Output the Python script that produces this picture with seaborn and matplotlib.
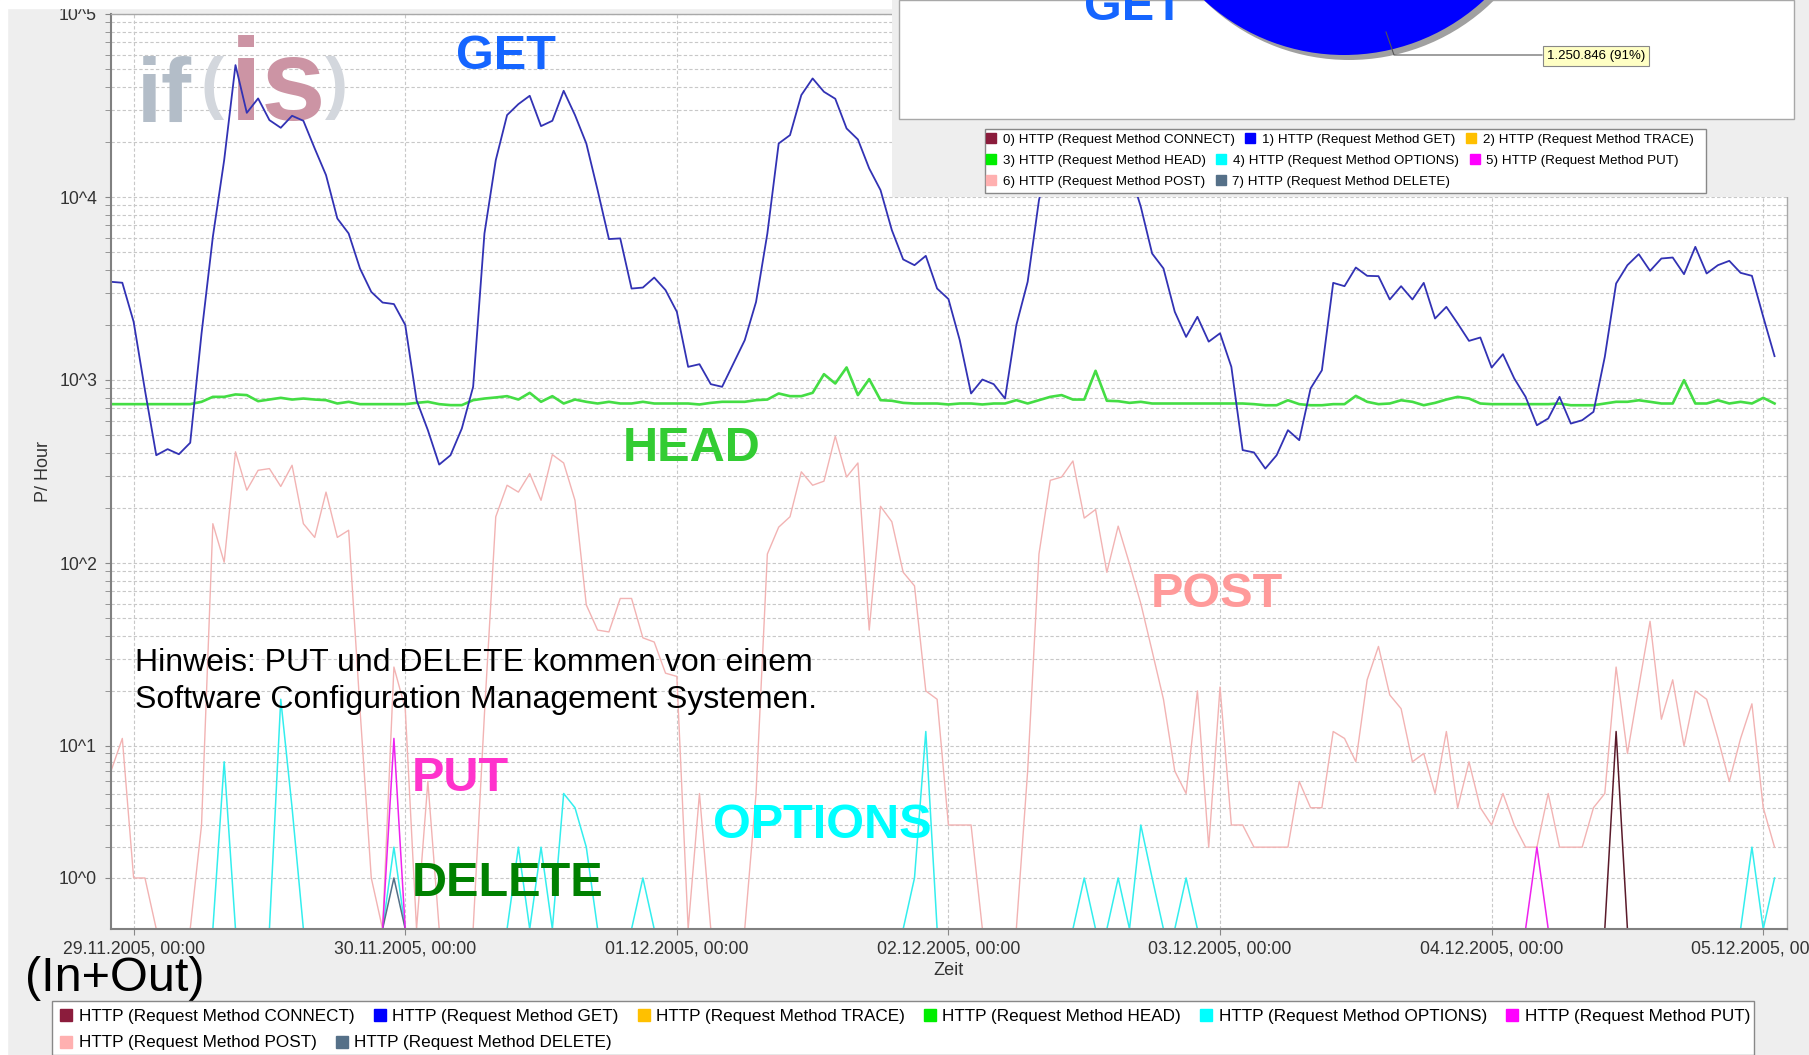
import numpy as np
import pandas as pd
import matplotlib
matplotlib.use("Agg")
import matplotlib.pyplot as plt
import matplotlib.dates as mdates
from matplotlib import font_manager
from matplotlib.lines import Line2D
from matplotlib.patches import Rectangle
from matplotlib.ticker import FixedLocator, FixedFormatter, NullFormatter
import seaborn as sns

# hourly requests, first value = 28.11.2005 22:00 (hour -2 relative to 29.11. 00:00)
start_time = "2005-11-28 22:00"
first_hour = -2

get_vals = [
    3440, 3400, 2080, 880, 388, 419, 393, 454, 1795, 6060,
    15900, 52570, 28840, 34560, 26310, 23890, 27790, 26090, 18420, 13170,
    7630, 6320, 4070, 3030, 2650, 2600, 2000, 776, 532, 345,
    388, 543, 918, 6320, 15900, 28030, 32180, 35740, 24400, 26090,
    38060, 28030, 19610, 10900, 5890, 5940, 3160, 3200, 3630, 3100,
    2360, 1180, 1220, 949, 918, 1230, 1650, 2670, 6320, 19610,
    21780, 36050, 44450, 37580, 34420, 23690, 20630, 14320, 10900, 6590,
    4560, 4240, 4770, 3160, 2770, 1650, 844, 1006, 949, 792,
    1995, 3440, 9620, 17000, 26000, 31000, 36000, 33000, 30000, 24000,
    14000, 8840, 4910, 4070, 2360, 1720, 2215, 1620, 1800, 1180,
    414, 402, 328, 388, 532, 469, 899, 1130, 3395, 3256,
    4118, 3709, 3693, 2754, 3256, 2754, 3395, 2168, 2510, 2036,
    1636, 1707, 1170, 1384, 1019, 809, 566, 616, 809, 578,
    603, 670, 1338, 3368, 4242, 4871, 3949, 4612, 4670, 3787,
    5342, 3819, 4242, 4479, 3851, 3709, 2214, 1350,
]

head_vals = [
    738, 738, 738, 738, 738, 738, 738, 738, 760, 809,
    809, 834, 827, 766, 782, 799, 782, 792, 782, 776,
    744, 760, 738, 738, 738, 738, 738, 750, 760, 738,
    729, 729, 776, 792, 803, 816, 782, 851, 760, 816,
    744, 782, 760, 744, 760, 744, 744, 760, 744, 744,
    744, 744, 735, 750, 760, 760, 760, 776, 782, 844,
    816, 816, 851, 1076, 957, 1171, 827, 1011, 776, 770,
    750, 744, 744, 744, 735, 744, 744, 735, 744, 744,
    776, 744, 776, 809, 827, 782, 782, 1123, 770, 766,
    750, 760, 744, 744, 744, 744, 744, 744, 744, 744,
    744, 738, 728, 728, 775, 738, 728, 728, 738, 738,
    819, 760, 738, 744, 775, 760, 728, 750, 782, 809,
    792, 744, 738, 738, 738, 738, 738, 738, 744, 728,
    728, 728, 744, 760, 760, 775, 760, 744, 744, 998,
    744, 744, 775, 744, 760, 744, 799, 744,
]

post_vals = [
    7, 11, 1, 1, 0, 0, 0, 0, 3, 164,
    101, 405, 250, 321, 328, 262, 342, 164, 138, 244,
    138, 151, 16, 1, 0, 27, 16, 0, 6, 0,
    0, 0, 0, 15, 179, 266, 244, 308, 220, 391,
    352, 220, 59, 43, 42, 64, 64, 39, 37, 25,
    24, 0, 5, 0, 0, 0, 0, 5, 112, 157,
    179, 315, 266, 280, 493, 295, 352, 43, 204, 168,
    89, 75, 20, 18, 3, 3, 3, 0, 0, 0,
    0, 7, 112, 283, 295, 361, 176, 196, 89, 159,
    99, 60, 33, 18, 7, 5, 20, 2, 21, 3,
    3, 2, 2, 2, 2, 6, 4, 4, 12, 11,
    8, 23, 35, 19, 16, 8, 9, 5, 12, 4,
    8, 4, 3, 5, 3, 2, 2, 5, 2, 2,
    2, 4, 5, 27, 9, 21, 48, 14, 23, 10,
    20, 18, 11, 6, 11, 17, 4, 2,
]

# rare methods: hour (since 29.11. 00:00) and requests, zero elsewhere
options_hours = [8, 13, 14, 23, 34, 36, 38, 39, 40, 45, 69, 70, 84, 87, 89, 90, 93, 143, 145]
options_vals = [8, 18, 4, 2, 2, 2, 5, 4, 2, 1, 1, 12, 1, 1, 3, 1, 1, 2, 1]
put_hours = [23, 124]
put_vals = [11, 2]
delete_hours = [23]
delete_vals = [1]
connect_hours = [131]
connect_vals = [12]

method_names = ["CONNECT", "GET", "TRACE", "HEAD", "OPTIONS", "PUT", "POST", "DELETE"]
legend_colors = ["#8b1c3c", "#0000ff", "#ffc000", "#00ee00", "#00ffff", "#ff00ff", "#ffb0b0", "#557088"]
pie_values = [12, 1250846, 0, 112000, 126, 13, 11000, 1]
pie_label = "1.250.846 (91%)"

W, H = 1809, 1055


def fx(x):
    return x / W


def fy(y):
    return 1 - y / H


names = {f.name for f in font_manager.fontManager.ttflist}
SANS = "Liberation Sans" if "Liberation Sans" in names else "DejaVu Sans"
if "Liberation Sans Narrow" in names:
    NARROW, BIG = "Liberation Sans Narrow", 42
else:
    NARROW, BIG = SANS, 35
plt.rcParams["font.family"] = [SANS, "DejaVu Sans"]

times = pd.date_range(start_time, periods=len(get_vals), freq="h")


def sparse(hours, vals):
    s = np.zeros(len(times))
    s[np.asarray(hours) - first_hour] = vals
    return s


options = sparse(options_hours, options_vals)
put = sparse(put_hours, put_vals)
delete = sparse(delete_hours, delete_vals)
connect = sparse(connect_hours, connect_vals)


# JFreeChart-like log axis: values below 10 are squeezed so that 0 sits at the bottom
def fwd(v):
    v = np.asarray(v, dtype=float)
    small = np.log10(np.clip(0.9 * v + 1, 1e-9, None))
    big = np.log10(np.clip(v, 1e-9, None))
    return np.where(v < 10, small, big)


def inv(t):
    t = np.asarray(t, dtype=float)
    return np.where(t < 1, (10 ** t - 1) / 0.9, 10 ** t)


fig = plt.figure(figsize=(W / 100, H / 100), dpi=100, facecolor="#eeeeee")
fig.patches.append(Rectangle((0, 0), fx(7), 1, transform=fig.transFigure, color="white", zorder=1))
fig.patches.append(Rectangle((0, fy(8)), fx(892), 8 / H, transform=fig.transFigure, color="white", zorder=1))

ax = fig.add_axes([fx(111), fy(929), (1787 - 111) / W, (929 - 14) / H])
ax.set_facecolor("white")

series = [
    (post_vals, "#f2b3b3", 1.0),
    (head_vals, "#44dd44", 1.9),
    (get_vals, "#3232b4", 1.3),
    (options, "#33eeee", 1.1),
    (delete, "#557088", 1.1),
    (put, "#ee22ee", 1.1),
    (connect, "#5a1a2a", 1.1),
]
for vals, col, lw in series:
    sns.lineplot(x=times, y=vals, ax=ax, color=col, linewidth=lw, estimator=None)

ax.set_yscale("function", functions=(fwd, inv))
ax.set_ylim(0, 1e5)
ax.set_xlim(times[0], times[0] + pd.Timedelta(hours=148.1))

major = [10 ** d for d in range(6)]
ax.yaxis.set_major_locator(FixedLocator(major))
ax.yaxis.set_major_formatter(FixedFormatter([f"10^{d}" for d in range(6)]))
ax.yaxis.set_minor_locator(FixedLocator([k * 10 ** d for d in range(5) for k in range(2, 10)]))
ax.yaxis.set_minor_formatter(NullFormatter())
ax.xaxis.set_major_locator(mdates.DayLocator())
ax.xaxis.set_major_formatter(mdates.DateFormatter("%d.%m.%Y, %H:%M"))

ax.set_axisbelow(True)
ax.grid(which="both", axis="y", color="#c8c8c8", linestyle=(0, (3, 2)), linewidth=0.8)
ax.grid(which="major", axis="x", color="#c8c8c8", linestyle=(0, (3, 2)), linewidth=0.8)
ax.tick_params(axis="both", which="both", direction="out", length=4, color="#888888",
               labelsize=12.7, labelcolor="#333333")
ax.tick_params(axis="y", pad=6)
ax.tick_params(axis="x", pad=4)
for side, sp in ax.spines.items():
    sp.set_color("#808080" if side in ("left", "bottom") else "#a8a8a8")
    sp.set_linewidth(1.5 if side in ("left", "bottom") else 1.0)

ax.set_xlabel("Zeit", fontsize=13, color="#333333")
ax.set_ylabel("P/ Hour", fontsize=13, color="#333333")
ax.xaxis.set_label_coords((948 - 111) / 1676, (929 - 962) / 915)
ax.yaxis.set_label_coords((52 - 111) / 1676, 0.5)

# logo (behind the lines)
logo = [("if", 137, 122, 78, "#b3bdc8"), ("(", 201, 106, 60, "#d3d7dd"),
        ("is", 230, 120, 100, "#cc94a4"), (")", 325, 106, 60, "#d3d7dd")]
for txt, x, y, size, col in logo:
    ax.text(fx(x), fy(y), txt, transform=fig.transFigure, fontsize=size * BIG / 42,
            family=NARROW, fontweight="bold", color=col, va="baseline", zorder=1)

# big method labels
labels = [("GET", 456, 69, "#1565ff"), ("HEAD", 623, 461, "#33cc33"), ("POST", 1151, 607, "#ff9a9a"),
          ("PUT", 412, 791, "#ff33cc"), ("OPTIONS", 713, 838, "#00ffff"), ("DELETE", 412, 896, "#008000")]
for txt, x, y, col in labels:
    fig.text(fx(x), fy(y), txt, fontsize=BIG, family=NARROW, fontweight="bold", color=col, va="baseline")

fig.text(fx(135), fy(671), "Hinweis: PUT und DELETE kommen von einem", fontsize=23, color="black", va="baseline")
fig.text(fx(135), fy(708), "Software Configuration Management Systemen.", fontsize=23, color="black", va="baseline")
fig.text(fx(25), fy(991), "(In+Out)", fontsize=35, color="black", va="baseline")

# bottom legend
fig.patches.append(Rectangle((fx(52), 0), (1754 - 52) / W, fy(1001), transform=fig.transFigure,
                             facecolor="white", edgecolor="#888888", linewidth=1, zorder=4))


def square(c, size):
    return Line2D([], [], marker="s", linestyle="none", markersize=size, markerfacecolor=c, markeredgecolor=c)


for row, ypos in (([0, 1, 2, 3, 4, 5], 1016), ([6, 7], 1043)):
    leg = fig.legend([square(legend_colors[i], 9) for i in row],
                     [f"HTTP (Request Method {method_names[i]})" for i in row],
                     loc="center left", bbox_to_anchor=(fx(60), fy(ypos)), ncol=len(row), frameon=False,
                     fontsize=12.3, handlelength=0.75, handletextpad=0.35, columnspacing=1.1,
                     borderpad=0, borderaxespad=0)
    leg.set_zorder(6)

# inset: pie chart snapshot in the upper right
ax_in = fig.add_axes([fx(892), fy(197), (W - 892) / W, 197 / H], zorder=5)
ax_in.set_facecolor("#eeeeee")
ax_in.add_patch(Rectangle((7, 0), 895, 119, facecolor="white", edgecolor="#a8a8a8", linewidth=1, zorder=0.5))
cx, cy, rad = 452, -151, 206
total = sum(pie_values)
start_ang = 90 - 360 * (pie_values[0] + pie_values[1] / 2) / total
ax_in.pie(pie_values, colors=["#a0a0a0"] * len(pie_values), center=(cx + 5, cy + 5), radius=rad,
          startangle=start_ang, frame=True, wedgeprops=dict(linewidth=0))
ax_in.pie(pie_values, colors=legend_colors, center=(cx, cy), radius=rad,
          startangle=start_ang, frame=True, wedgeprops=dict(linewidth=0))
ax_in.plot([494, 502, 650], [32, 55, 55], color="#555555", linewidth=0.8, zorder=3)
ax_in.text(704, 56, pie_label, fontsize=9.5, ha="center", va="center", zorder=4,
           bbox=dict(boxstyle="square,pad=0.3", facecolor="#ffffc4", edgecolor="#888888", linewidth=0.8))
ax_in.text(192, 20, "GET", fontsize=BIG, family=NARROW, fontweight="bold", color="#1565ff", va="baseline")
ax_in.set_xlim(0, W - 892)
ax_in.set_ylim(197, 0)
ax_in.set_xticks([])
ax_in.set_yticks([])
for sp in ax_in.spines.values():
    sp.set_visible(False)

fig.patches.append(Rectangle((fx(985), fy(193)), (1706 - 985) / W, (193 - 129) / H, transform=fig.transFigure,
                             facecolor="white", edgecolor="#888888", linewidth=1, zorder=5.5))
for row, ypos in (([0, 1, 2], 140), ([3, 4, 5], 161), ([6, 7], 182)):
    leg = fig.legend([square(legend_colors[i], 7) for i in row],
                     [f"{i}) HTTP (Request Method {method_names[i]})" for i in row],
                     loc="center left", bbox_to_anchor=(fx(986), fy(ypos)), ncol=len(row), frameon=False,
                     fontsize=9.6, handlelength=0.75, handletextpad=0.5, columnspacing=0.8,
                     borderpad=0, borderaxespad=0)
    leg.set_zorder(6)

fig.savefig("out.png", dpi=100, facecolor=fig.get_facecolor())
